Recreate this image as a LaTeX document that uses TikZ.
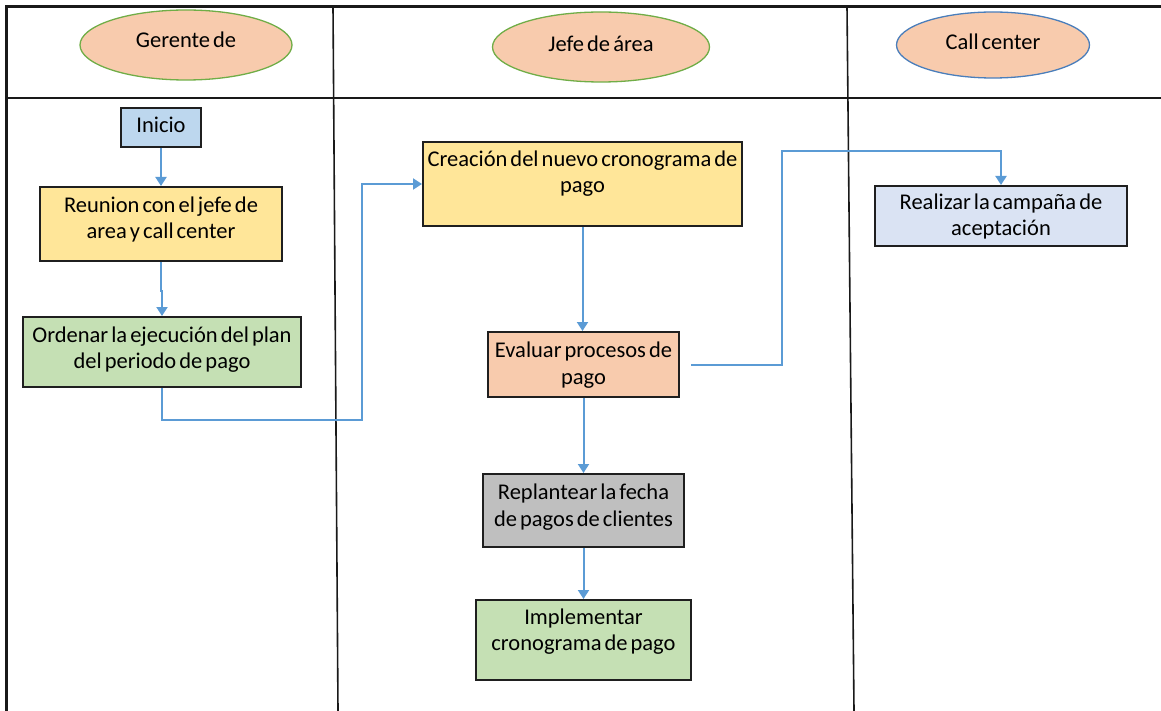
\documentclass[tikz,border=0pt]{standalone}
\usepackage{fontspec}
\setmainfont{Carlito}[WordSpace=0.6]
\usetikzlibrary{arrows.meta,shapes.geometric}

\definecolor{peach}{HTML}{F8CBAD}
\definecolor{leafgreen}{HTML}{70AD47}
\definecolor{ringblue}{HTML}{4A7EBB}
\definecolor{flowblue}{HTML}{5B9BD5}
\definecolor{boxblue}{HTML}{BDD7EE}
\definecolor{boxyellow}{HTML}{FFE699}
\definecolor{boxgreen}{HTML}{C5E0B4}
\definecolor{boxpale}{HTML}{DAE3F3}
\definecolor{boxgrey}{HTML}{BFBFBF}

% centred lines of text, lifted by #1 without changing the box size
\newcommand\boxtext[2]{\raisebox{#1}[\height][\depth]{\begin{tabular}{@{}c@{}}#2\end{tabular}}}

\begin{document}
\begin{tikzpicture}[x=1pt,y=-1pt,
  txt/.style={font=\fontsize{22.5}{26.5}\selectfont},
  stepbox/.style={txt,draw=black!88,line width=2pt,inner sep=0pt},
  lanehead/.style={txt,ellipse,fill=peach,line width=1.3pt,inner sep=0pt},
  frame/.style={draw=black!90},
  flow/.style={draw=flowblue,line width=2pt,-{Triangle[length=9pt,width=11pt]}}]

\useasboundingbox (0,0) rectangle (1161,711);

% swimlane grid
\draw[frame,line width=3pt] (6,711) -- (6,7) -- (1161,7);
\draw[frame,line width=1.6pt] (6,98) -- (1161,98);
\draw[frame,line width=1.6pt] (333,7) -- (338,711);
\draw[frame,line width=1.6pt] (847,7) -- (854,711);

% lane headings
\node[lanehead,draw=leafgreen,minimum width=212pt,minimum height=70pt] (hgerente) at (186,45) {\boxtext{3pt}{Gerente de}};
\node[lanehead,draw=leafgreen,minimum width=217pt,minimum height=70pt] (hjefe) at (601,47) {\boxtext{1pt}{Jefe de área}};
\node[lanehead,draw=ringblue,minimum width=193pt,minimum height=66pt] (hcall) at (993,45) {\boxtext{1pt}{Call center}};

% process steps
\node[stepbox,fill=boxblue,minimum width=80pt,minimum height=39pt] (inicio) at (161,127.5) {\boxtext{0pt}{Inicio}};
\node[stepbox,fill=boxyellow,minimum width=242pt,minimum height=74pt] (reunion) at (161,224) {\boxtext{4pt}{Reunion con el jefe de\\area y call center}};
\node[stepbox,fill=boxgreen,minimum width=278pt,minimum height=70pt] (ordenar) at (162,352) {\boxtext{2pt}{Ordenar la ejecución del plan\\del periodo de pago}};
\node[stepbox,fill=boxyellow,minimum width=319pt,minimum height=84pt] (creacion) at (582.5,184) {\boxtext{10pt}{Creación del nuevo cronograma de\\pago}};
\node[stepbox,fill=peach,minimum width=191pt,minimum height=65pt] (evaluar) at (583.5,364.5) {\boxtext{-1pt}{Evaluar procesos de\\pago}};
\node[stepbox,fill=boxpale,minimum width=252pt,minimum height=60pt] (realizar) at (1001,216) {\boxtext{-1pt}{Realizar la campaña de\\aceptación}};
\node[stepbox,fill=boxgrey,minimum width=201pt,minimum height=73pt] (replantear) at (583.5,510.5) {\boxtext{3pt}{Replantear la fecha\\de pagos de clientes}};
\node[stepbox,fill=boxgreen,minimum width=215pt,minimum height=80pt] (implementar) at (583.5,640) {\boxtext{8pt}{Implementar\\cronograma de pago}};

% routing points
\coordinate (bendA) at (362,420);
\coordinate (bendB) at (782,151);

% connectors
\draw[flow] (inicio.south) -- (reunion.north);
\draw[flow] (reunion.south) -- ++(0,29) -| (ordenar.north);
\draw[flow] (ordenar.south) |- (bendA) |- (creacion.west);
\draw[flow] (creacion.south) -- (creacion.south |- evaluar.north);
\draw[flow,shorten <=11pt] (evaluar.east) -| (bendB) -| (realizar.north);
\draw[flow] (evaluar.south) -- (replantear.north);
\draw[flow] (replantear.south) -- (implementar.north);
\end{tikzpicture}
\end{document}
